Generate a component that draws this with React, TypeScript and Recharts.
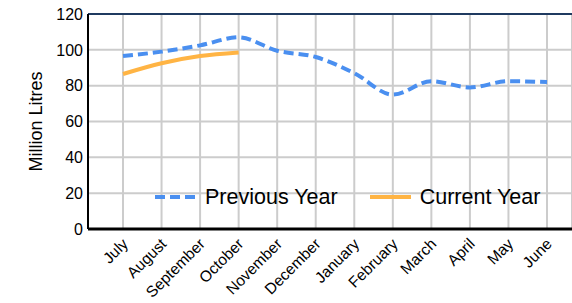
import React from 'react'
import { LineChart, Line, XAxis, YAxis, CartesianGrid, ReferenceLine } from 'recharts'

const months = [
  'July', 'August', 'September', 'October', 'November', 'December',
  'January', 'February', 'March', 'April', 'May', 'June',
]
const previousYear = [96.5, 99, 102.5, 107, 99.5, 96, 87, 75, 82.5, 79, 82.5, 82]
const currentYear: (number | null)[] = [86.5, 92.5, 96.5, 98.5, null, null, null, null, null, null, null, null]
const yTicks = [0, 20, 40, 60, 80, 100, 120]

const BLUE = '#4a8ff0'
const ORANGE = '#ffb444'
const FONT = 'Liberation Sans, Arial, sans-serif'

const data = months.map((m, i) => ({ month: m, previous: previousYear[i], current: currentYear[i] }))

const MonthTick = (props: any) => {
  const { x, y, payload } = props
  const ax = x + 2
  const ay = y + 4
  return (
    <text
      x={ax}
      y={ay}
      transform={`rotate(-45, ${ax}, ${ay})`}
      textAnchor="end"
      dominantBaseline="central"
      fontSize={15.5}
      fill="#000"
      fontFamily={FONT}
    >
      {payload.value}
    </text>
  )
}

const LegendBox = () => (
  <div
    style={{
      position: 'absolute',
      left: 155,
      top: 184,
      display: 'flex',
      alignItems: 'center',
      fontFamily: FONT,
      fontSize: 21.5,
      lineHeight: '26px',
      color: '#000',
      pointerEvents: 'none',
      whiteSpace: 'nowrap',
    }}
  >
    <svg width={41} height={6}>
      <line x1={0} y1={3} x2={41} y2={3} stroke={BLUE} strokeWidth={4} strokeDasharray="10 5" />
    </svg>
    <span style={{ marginLeft: 9 }}>Previous Year</span>
    <svg width={41} height={6} style={{ marginLeft: 32 }}>
      <line x1={0} y1={3} x2={41} y2={3} stroke={ORANGE} strokeWidth={4} />
    </svg>
    <span style={{ marginLeft: 9 }}>Current Year</span>
  </div>
)

export default function App() {
  return (
    <div style={{ position: 'absolute', left: 0, top: 0, width: 572, height: 303, background: '#fff' }}>
      <LineChart width={572} height={303} data={data} margin={{ top: 14, right: 0, left: 0, bottom: 0 }}>
        <CartesianGrid stroke="#cccccc" strokeWidth={2} />
        <XAxis
          dataKey="month"
          interval={0}
          height={74}
          padding={{ left: 35, right: 25 }}
          tick={<MonthTick />}
          tickLine={false}
          axisLine={{ stroke: '#000', strokeWidth: 3 }}
        />
        <YAxis
          width={88}
          domain={[0, 120]}
          ticks={yTicks}
          interval={0}
          tickLine={false}
          tickSize={0}
          tickMargin={5}
          axisLine={{ stroke: '#000', strokeWidth: 2 }}
          tick={{ fontSize: 16, fill: '#000', fontFamily: FONT }}
          label={{
            value: 'Million Litres',
            angle: -90,
            position: 'insideLeft',
            offset: 36,
            style: { textAnchor: 'middle', fontSize: 18, fill: '#000', fontFamily: FONT },
          }}
        />
        <ReferenceLine y={120} stroke="#1f3a60" strokeWidth={2} />
        <Line
          type="monotone"
          dataKey="previous"
          stroke={BLUE}
          strokeWidth={4}
          strokeDasharray="10 5"
          dot={false}
          isAnimationActive={false}
        />
        <Line
          type="monotone"
          dataKey="current"
          stroke={ORANGE}
          strokeWidth={4}
          dot={false}
          connectNulls={false}
          isAnimationActive={false}
        />
      </LineChart>
      <LegendBox />
    </div>
  )
}
